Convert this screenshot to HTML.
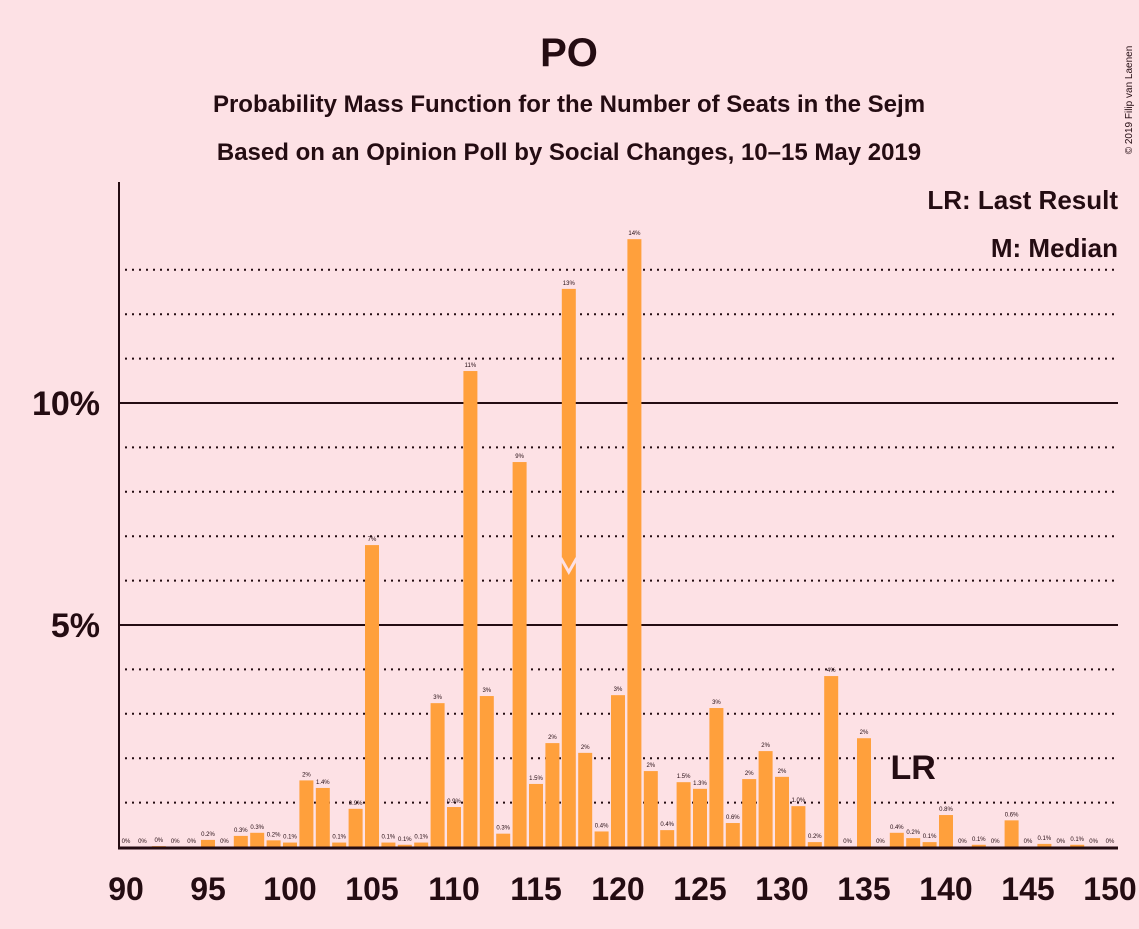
<!DOCTYPE html>
<html><head><meta charset="utf-8"><style>
body{margin:0;background:#fde1e5;font-family:"Liberation Sans",sans-serif;}
svg text{font-family:"Liberation Sans",sans-serif;fill:#240c12;}
</style></head><body>
<svg width="1139" height="924">
<rect width="1139" height="924" fill="#fde1e5"/>
<text x="569" y="66" font-size="40" font-weight="bold" text-anchor="middle">PO</text>
<text x="569" y="112" font-size="24" font-weight="bold" text-anchor="middle">Probability Mass Function for the Number of Seats in the Sejm</text>
<text x="569" y="160" font-size="24" font-weight="bold" text-anchor="middle">Based on an Opinion Poll by Social Changes, 10–15 May 2019</text>
<text x="1132" y="100" font-size="10" transform="rotate(-90 1132 100)" text-anchor="middle">© 2019 Filip van Laenen</text>
<text x="1118" y="209" font-size="26" font-weight="bold" text-anchor="end">LR: Last Result</text>
<text x="1118" y="257" font-size="26" font-weight="bold" text-anchor="end">M: Median</text>
<g id="grid"></g>
<g id="bars"></g>
<g id="axes"></g>
</svg>
<script>
const seats=[];for(let s=90;s<=150;s++)seats.push(s);
const probs=[0,0,0.02,0,0,0.16,0,0.25,0.32,0.15,0.1,1.5,1.33,0.1,0.86,6.8,0.1,0.05,0.1,3.24,0.9,10.72,3.4,0.3,8.67,1.42,2.34,12.57,2.12,0.35,3.42,13.69,1.71,0.38,1.46,1.31,3.13,0.54,1.53,2.16,1.58,0.92,0.11,3.85,0,2.45,0,0.32,0.2,0.11,0.72,0,0.05,0,0.6,0,0.07,0,0.05,0,0];
const labels=["0%","0%","0%","0%","0%","0.2%","0%","0.3%","0.3%","0.2%","0.1%","2%","1.4%","0.1%","0.9%","7%","0.1%","0.1%","0.1%","3%","0.9%","11%","3%","0.3%","9%","1.5%","2%","13%","2%","0.4%","3%","14%","2%","0.4%","1.5%","1.3%","3%","0.6%","2%","2%","2%","1.0%","0.2%","4%","0%","2%","0%","0.4%","0.2%","0.1%","0.8%","0%","0.1%","0%","0.6%","0%","0.1%","0%","0.1%","0%","0%"];
const xTicks=[90,95,100,105,110,115,120,125,130,135,140,145,150];
const yTicks=[5,10];
const median=117, lastResult=138;
const NS="http://www.w3.org/2000/svg";
const X=s=>126+(s-90)*16.4, Y=p=>847-p*44.4;
function mk(t,a,parent){const e=document.createElementNS(NS,t);for(const k in a)e.setAttribute(k,a[k]);document.getElementById(parent).appendChild(e);return e;}
for(let p=1;p<=13;p++){
 const solid=yTicks.includes(p);
 const l=mk('line',{x1:118,x2:1118,y1:Y(p),y2:Y(p),stroke:'#240c12','stroke-width':solid?2:2,'stroke-dasharray':solid?'none':'2,5'},'grid');
 
 
}
yTicks.forEach(p=>{const t=mk('text',{x:100,y:Y(p)+12,'font-size':34,'font-weight':'bold','text-anchor':'end'},'axes');t.textContent=p+'%';
 });
seats.forEach((s,i)=>{
 const p=probs[i];
 const r=mk('rect',{x:X(s)-7,y:Y(p),width:14,height:p*44.4,fill:'#ffa03c'},'bars');
 
 const t=mk('text',{x:X(s),y:Y(p)-4,'font-size':6,'text-anchor':'middle'},'bars');t.textContent=labels[i];
 
});
const mi=seats.indexOf(median);const mx=X(median),my=Y(probs[mi]/2);
const mm=mk('polyline',{points:`${mx-8},${my-10} ${mx},${my+4} ${mx+8},${my-10}`,fill:'none',stroke:'#fde1e5','stroke-width':3},'bars');

const lr=mk('text',{x:X(lastResult),y:779,'font-size':34,'font-weight':'bold','text-anchor':'middle'},'bars');lr.textContent='LR';

const ax=mk('line',{x1:118,x2:1118,y1:848,y2:848,stroke:'#240c12','stroke-width':3},'axes');

const ay=mk('line',{x1:119,x2:119,y1:182,y2:849,stroke:'#240c12','stroke-width':2},'axes');

xTicks.forEach(s=>{const t=mk('text',{x:X(s),y:900,'font-size':32,'font-weight':'bold','text-anchor':'middle'},'axes');t.textContent=s;
 });
</script>
</body></html>
